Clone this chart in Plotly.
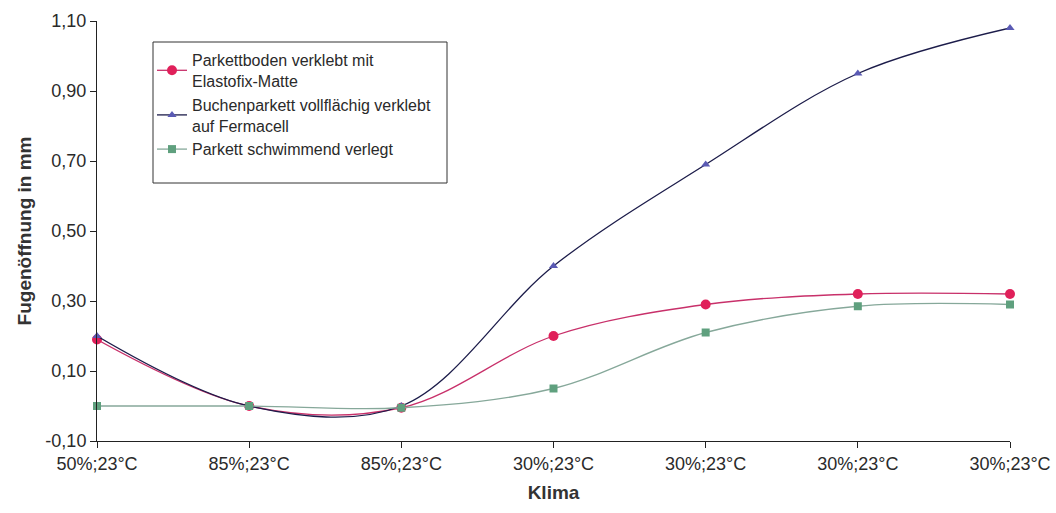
import plotly.graph_objects as go

categories = ["50%;23°C", "85%;23°C", "85%;23°C", "30%;23°C", "30%;23°C", "30%;23°C", "30%;23°C"]
x_pos = list(range(len(categories)))

elastofix = [0.19, 0.00, -0.005, 0.20, 0.29, 0.32, 0.32]
buche = [0.20, 0.00, 0.00, 0.40, 0.69, 0.95, 1.08]
schwimmend = [0.00, 0.00, -0.005, 0.05, 0.21, 0.285, 0.29]

names = [
    "Parkettboden verklebt mit<br>Elastofix-Matte",
    "Buchenparkett vollflächig verklebt<br>auf Fermacell",
    "Parkett schwimmend verlegt",
]
y_ticks = [-0.10, 0.10, 0.30, 0.50, 0.70, 0.90, 1.10]
y_ticklabels = ["-0,10", "0,10", "0,30", "0,50", "0,70", "0,90", "1,10"]

FONT = "Liberation Sans, Arial, sans-serif"
TXT = "#2a2a2a"

fig = go.Figure()
fig.add_trace(go.Scatter(
    x=x_pos, y=elastofix, name=names[0], mode="lines+markers",
    line=dict(color="#c8306a", width=1.3, shape="spline", smoothing=1.0),
    marker=dict(symbol="circle", size=10, color="#e0205a"),
    cliponaxis=False))
fig.add_trace(go.Scatter(
    x=x_pos, y=buche, name=names[1], mode="lines+markers",
    line=dict(color="#1c1c4a", width=1.3, shape="spline", smoothing=1.0),
    marker=dict(symbol="triangle-up", size=8, color="#5a5ab4"),
    cliponaxis=False))
fig.add_trace(go.Scatter(
    x=x_pos, y=schwimmend, name=names[2], mode="lines+markers",
    line=dict(color="#86a89a", width=1.3, shape="spline", smoothing=1.0),
    marker=dict(symbol="square", size=8, color="#5fa07e"),
    cliponaxis=False))

# legend frame
fig.add_shape(type="rect", xref="paper", yref="paper",
              x0=(153 - 97) / 913, x1=(447 - 97) / 913,
              y0=(441 - 183) / 420, y1=(441 - 42) / 420,
              line=dict(color="#333", width=1), fillcolor="white", layer="below")

fig.update_layout(
    width=1056, height=513,
    margin=dict(l=97, r=46, t=21, b=72),
    paper_bgcolor="white", plot_bgcolor="rgba(0,0,0,0)",
    separators=",.",
    font=dict(family=FONT, size=18, color=TXT),
    showlegend=True,
    legend=dict(
        x=(152 - 97) / 913, y=(441 - 43) / 420, xanchor="left", yanchor="top",
        borderwidth=0, bgcolor="rgba(0,0,0,0)",
        font=dict(family=FONT, size=16, color=TXT),
        tracegroupgap=3, itemwidth=30,
    ),
    xaxis=dict(
        range=[0, 6], tickmode="array", tickvals=x_pos, ticktext=categories,
        showgrid=False, zeroline=False, showline=True, linecolor="#222", linewidth=1,
        ticks="outside", ticklen=6, tickcolor="#222", automargin=False,
        tickfont=dict(family=FONT, size=18, color=TXT),
        title=dict(text="<b>Klima</b>", font=dict(family=FONT, size=19, color="#333"), standoff=13),
    ),
    yaxis=dict(
        range=[-0.10, 1.10], tickmode="array", tickvals=y_ticks, ticktext=y_ticklabels,
        showgrid=False, zeroline=False, showline=True, linecolor="#222", linewidth=1,
        ticks="outside", ticklen=6, tickcolor="#222", automargin=False,
        tickfont=dict(family=FONT, size=18, color=TXT),
        title=dict(text="<b>Fugenöffnung in mm</b>", font=dict(family=FONT, size=19, color="#333"), standoff=8),
    ),
)

fig.write_html("out.html",
               config={"displayModeBar": False},
               post_script="document.body.style.margin='0';document.body.style.overflow='hidden';")
